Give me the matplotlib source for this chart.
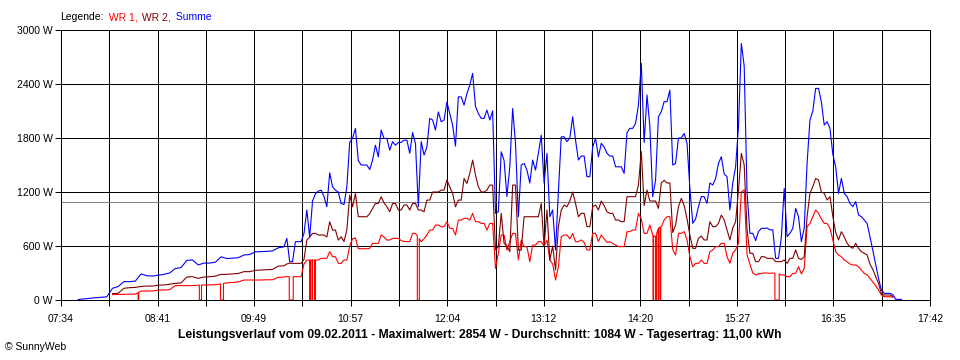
import numpy as np
import matplotlib
matplotlib.use("Agg")
import matplotlib.pyplot as plt

plt.rcParams["font.family"] = ["Liberation Sans", "DejaVu Sans"]

nan = np.nan

# Messzeitpunkte (Minuten seit Mitternacht):
# 07:46-10:06 alle 4 Minuten, ab 10:10 alle 2 Minuten bis 17:22
t_early = 466 + 4 * np.arange(36)
t_late = 610 + 2 * np.arange(217)

summe = [
    # 07:46 - 10:06
    5, 12, 18, 25, 30, 35, 130, 150, 204, 204, 210, 290,
    270, 266, 275, 285, 300, 350, 360, 440, 445, 390, 410, 410,
    420, 480, 460, 465, 470, 500, 505, 535, 537, 540, 545, 580,
    # 10:10 - 11:36
    590, 685, 426, 426, 648, 648, 648, 740, 1000, 700, 1100, 1180,
    1210, 1220, 1150, 1036, 1413, 1258, 1220, 1200, 1073, 1060, 1258, 1750,
    1800, 1905, 1550, 1500, 1500, 1500, 1450, 1555, 1720, 1590, 1887, 1795,
    1795, 1665, 1760, 1720, 1750, 1750, 1776, 1776,
    # 11:38 - 13:36
    1630, 1860, 1740, 1036, 1760, 1610, 1700, 2018, 2000, 1887, 2090, 1980,
    2000, 2200, 2072, 1942, 1710, 2257, 2257, 2165, 2294, 2387, 2518, 2150,
    2072, 2018, 2018, 2110, 2000, 2100, 963, 980, 1647, 1550, 1150, 1480,
    2128, 1740, 925, 1500, 1517, 1443, 1300, 1555, 1443, 1630, 1832, 1300,
    1630, 925, 1000, 555, 1200, 1813, 1813, 1760, 1800, 2035, 1776, 1555,
    # 13:38 - 15:32
    1600, 1600, 1370, 1370, 1700, 1796, 1592, 1740, 1700, 1630, 1600, 1600,
    1480, 1480, 1480, 1407, 1860, 1907, 1907, 1963, 2166, 2630, 1750, 2278,
    1926, 1148, 1333, 2037, 2093, 2204, 2204, 2333, 1500, 1518, 1800, 1800,
    1850, 1740, 1240, 852, 900, 1037, 1150, 1148, 1074, 1300, 1278, 1350,
    1518, 1592, 1400, 1370, 1000, 1300, 1481, 1926, 2850, 2600,
    # 15:34 - 17:22
    1200, 741, 741, 660, 760, 796, 796, 800, 780, 780, 463, 463,
    700, 1240, 704, 741, 796, 1018, 926, 648, 800, 1518, 2000, 2100,
    2350, 2352, 2200, 1944, 1981, 1907, 1620, 1480, 1185, 1352, 1185, 1148,
    1074, 1037, 1093, 944, 926, 889, 850, 704, 550, 400, 241, 111,
    74, 74, 74, 60, 7, 7, 7,
]

wr2 = [
    nan, nan, nan, nan, nan, nan, 70, 75, 130, 137, 140, 150,
    155, 155, 165, 167, 175, 185, 190, 255, 259, 240, 255, 259,
    265, 285, 285, 290, 295, 315, 315, 330, 333, 335, 340, 377,
    380, 400, 410, 407, 407, 407, 407, 450, 666, 700, 740, 740,
    722, 722, 722, 700, 870, 777, 777, 666, 703, 650, 780, 1165,
    1036, 1184, 925, 925, 925, 925, 960, 1018, 1073, 1073, 1147, 1080,
    1036, 980, 1073, 1073, 1000, 1000, 1055, 1055,
    1000, 1073, 1073, 1000, 1000, 980, 1110, 1110, 1200, 1200, 1200, 1221,
    1221, 1332, 1258, 1184, 1036, 1110, 1110, 1350, 1295, 1406, 1554, 1388,
    1258, 1200, 1200, 1221, 1277, 1277, 555, 592, 963, 629, 600, 537,
    1277, 1277, 555, 555, 925, 925, 925, 925, 925, 925, 1073, 592,
    1000, 444, 600, 333, 814, 1000, 1055, 1036, 1100, 1200, 1073, 925,
    963, 963, 815, 815, 1037, 1055, 1000, 1100, 1050, 980, 963, 963,
    889, 889, 870, 870, 1148, 1148, 1148, 1148, 1278, 1650, 1050, 1222,
    1100, 1100, 1100, 1018, 1300, 1330, 1300, 1300, 750, 833, 1037, 1130,
    1050, 900, 722, 574, 574, 685, 710, 667, 667, 870, 815, 815,
    852, 944, 889, 778, 667, 800, 870, 1222, 1630, 1500,
    778, 519, 519, 426, 426, 481, 481, 463, 463, 463, 426, 426,
    426, 444, 407, 463, 463, 556, 463, 450, 480, 926, 1185, 1259,
    1350, 1333, 1200, 1185, 1111, 1148, 930, 750, 667, 759, 700, 630,
    593, 574, 630, 574, 537, 519, 500, 400, 340, 259, 185, 70,
    56, 56, 56, 40, nan, nan, nan,
]

wr1 = [
    nan, nan, nan, nan, nan, nan, 60, 62, 62, 65, 65, 100,
    100, 100, 111, 111, 115, 160, 160, 160, 160, 165, 167, 167,
    170, 180, 190, 195, 200, 222, 222, 222, 222, 225, 225, 252,
    255, 259, 259, 259, 259, 259, 259, 400, 444, 444, 444, 444,
    444, 463, 463, 463, 537, 481, 481, 407, 407, 444, 444, 600,
    680, 690, 570, 570, 570, 570, 574, 629, 629, 629, 722, 700,
    666, 666, 685, 685, 685, 660, 650, 650,
    648, 740, 740, 700, 648, 680, 722, 777, 777, 833, 833, 814,
    814, 870, 796, 796, 722, 888, 888, 907, 907, 888, 963, 870,
    870, 851, 851, 777, 851, 851, 351, 518, 722, 722, 555, 648,
    740, 740, 444, 666, 592, 592, 425, 611, 611, 648, 648, 600,
    666, 444, 400, 222, 370, 703, 722, 722, 680, 740, 648, 648,
    667, 640, 556, 556, 741, 741, 650, 722, 680, 640, 648, 630,
    611, 593, 593, 593, 759, 759, 778, 778, 963, 900, 740, 741,
    833, 720, 700, 800, 815, 889, 926, 926, 560, 500, 741, 741,
    760, 667, 481, 370, 407, 407, 444, 407, 407, 537, 556, 593,
    593, 630, 630, 481, 407, 519, 556, 630, 1200, 1222,
    500, 400, 300, 278, 290, 296, 300, 300, 296, 300, 296, 296,
    278, 278, 259, 259, 296, 296, 370, 290, 350, 814, 851, 926,
    1000, 963, 900, 851, 851, 796, 670, 537, 500, 481, 444, 426,
    400, 389, 389, 370, 333, 296, 280, 240, 200, 160, 111, 56,
    37, 37, 37, 30, nan, nan, nan,
]

# Ausfaelle WR 1 (Minuten seit Mitternacht, Beginn / Ende)
wr1_drop_start = [508.0, 550.8, 565.6, 613.7, 628.0, 629.6, 631.5,
                  703.3, 868.2, 870.1, 871.8, 873.2, 953.5]
wr1_drop_end = [508.4, 552.3, 567.7, 616.5, 628.4, 630.0, 631.9,
                704.7, 868.6, 870.5, 872.2, 873.6, 956.5]

durchschnitt = 1084
y_ticks = [0, 600, 1200, 1800, 2400, 3000]
x_labels = ["07:34", "08:41", "09:49", "10:57", "12:04",
            "13:12", "14:20", "15:27", "16:35", "17:42"]
t_min, t_max = 454, 1062

title = ("Leistungsverlauf vom 09.02.2011 - Maximalwert: 2854 W - "
         "Durchschnitt: 1084 W - Tagesertrag: 11,00 kWh")


def with_dropouts(t, v, starts, ends):
    ok = ~np.isnan(v)
    pts = []
    for ti, vi in zip(t, v):
        if any(s <= ti <= e for s, e in zip(starts, ends)):
            continue
        pts.append((ti, 1, vi))
    for s, e in zip(starts, ends):
        vs = np.interp(s, t[ok], v[ok])
        ve = np.interp(e, t[ok], v[ok])
        pts += [(s, 0, vs), (s, 2, 0.0), (e, 0, 0.0), (e, 2, ve)]
    pts.sort(key=lambda p: (p[0], p[1]))
    return np.array([p[0] for p in pts]), np.array([p[2] for p in pts])


t = np.concatenate([t_early, t_late]).astype(float)
summe = np.array(summe, dtype=float)
wr1 = np.array(wr1, dtype=float)
wr2 = np.array(wr2, dtype=float)
assert len(summe) == len(t) == len(wr1) == len(wr2)
t1, v1 = with_dropouts(t, wr1, wr1_drop_start, wr1_drop_end)

fig = plt.figure(figsize=(9.6, 3.6), dpi=100)
ax = fig.add_axes([61 / 960, 60 / 360, 869 / 960, 270 / 360])

px = 0.72  # 1 Pixel bei 100 dpi
for y in y_ticks:
    ax.axhline(y, color="black", lw=px, zorder=1, clip_on=False,
               antialiased=False)
for x in np.linspace(t_min, t_max, 19):
    ax.axvline(x, color="black", lw=px, zorder=1, clip_on=False,
               antialiased=False)
ax.axhline(durchschnitt, color="#808080", lw=px, zorder=1, antialiased=False)

ax.plot(t1, v1, color="#ff0000", lw=0.8, zorder=3)
ax.plot(t, wr2, color="#800000", lw=0.8, zorder=3)
ax.plot(t, summe, color="#0000ff", lw=0.8, zorder=4)

ax.set_xlim(t_min, t_max)
ax.set_ylim(0, 3000)
ax.set_yticks(y_ticks, [f"{y} W" for y in y_ticks])
ax.set_xticks(np.linspace(t_min, t_max, 10), x_labels)
ax.set_xticks(np.linspace(t_min, t_max, 19), minor=True)
ax.tick_params(which="both", direction="out", length=4, width=px,
               labelsize=7.5, pad=2)
ax.tick_params(axis="x", which="major", pad=6)
for side in ["top", "right"]:
    ax.spines[side].set_visible(False)
for side in ["left", "bottom"]:
    ax.spines[side].set_linewidth(px)
    ax.spines[side].set_antialiased(False)

# Legende als farbige Textteile
fig.canvas.draw()
renderer = fig.canvas.get_renderer()
x0 = 60 / 960
for txt, col in [("Legende:", "black"), (" WR 1,", "#ff0000"),
                 (" WR 2,", "#800000"), (" Summe", "#0000ff")]:
    tx = fig.text(x0, 1 - 17 / 360, txt, color=col, fontsize=7.5, va="center")
    bb = tx.get_window_extent(renderer)
    x0 += (bb.width + 2) / 960

fig.text(0.5, 1 - 335 / 360, title, ha="center", va="center",
         fontsize=8.75, fontweight="bold")
fig.text(5 / 960, 1 - 347 / 360, "\u00a9 SunnyWeb", ha="left", va="center",
         fontsize=7.5)

fig.savefig("out.png", dpi=100)
